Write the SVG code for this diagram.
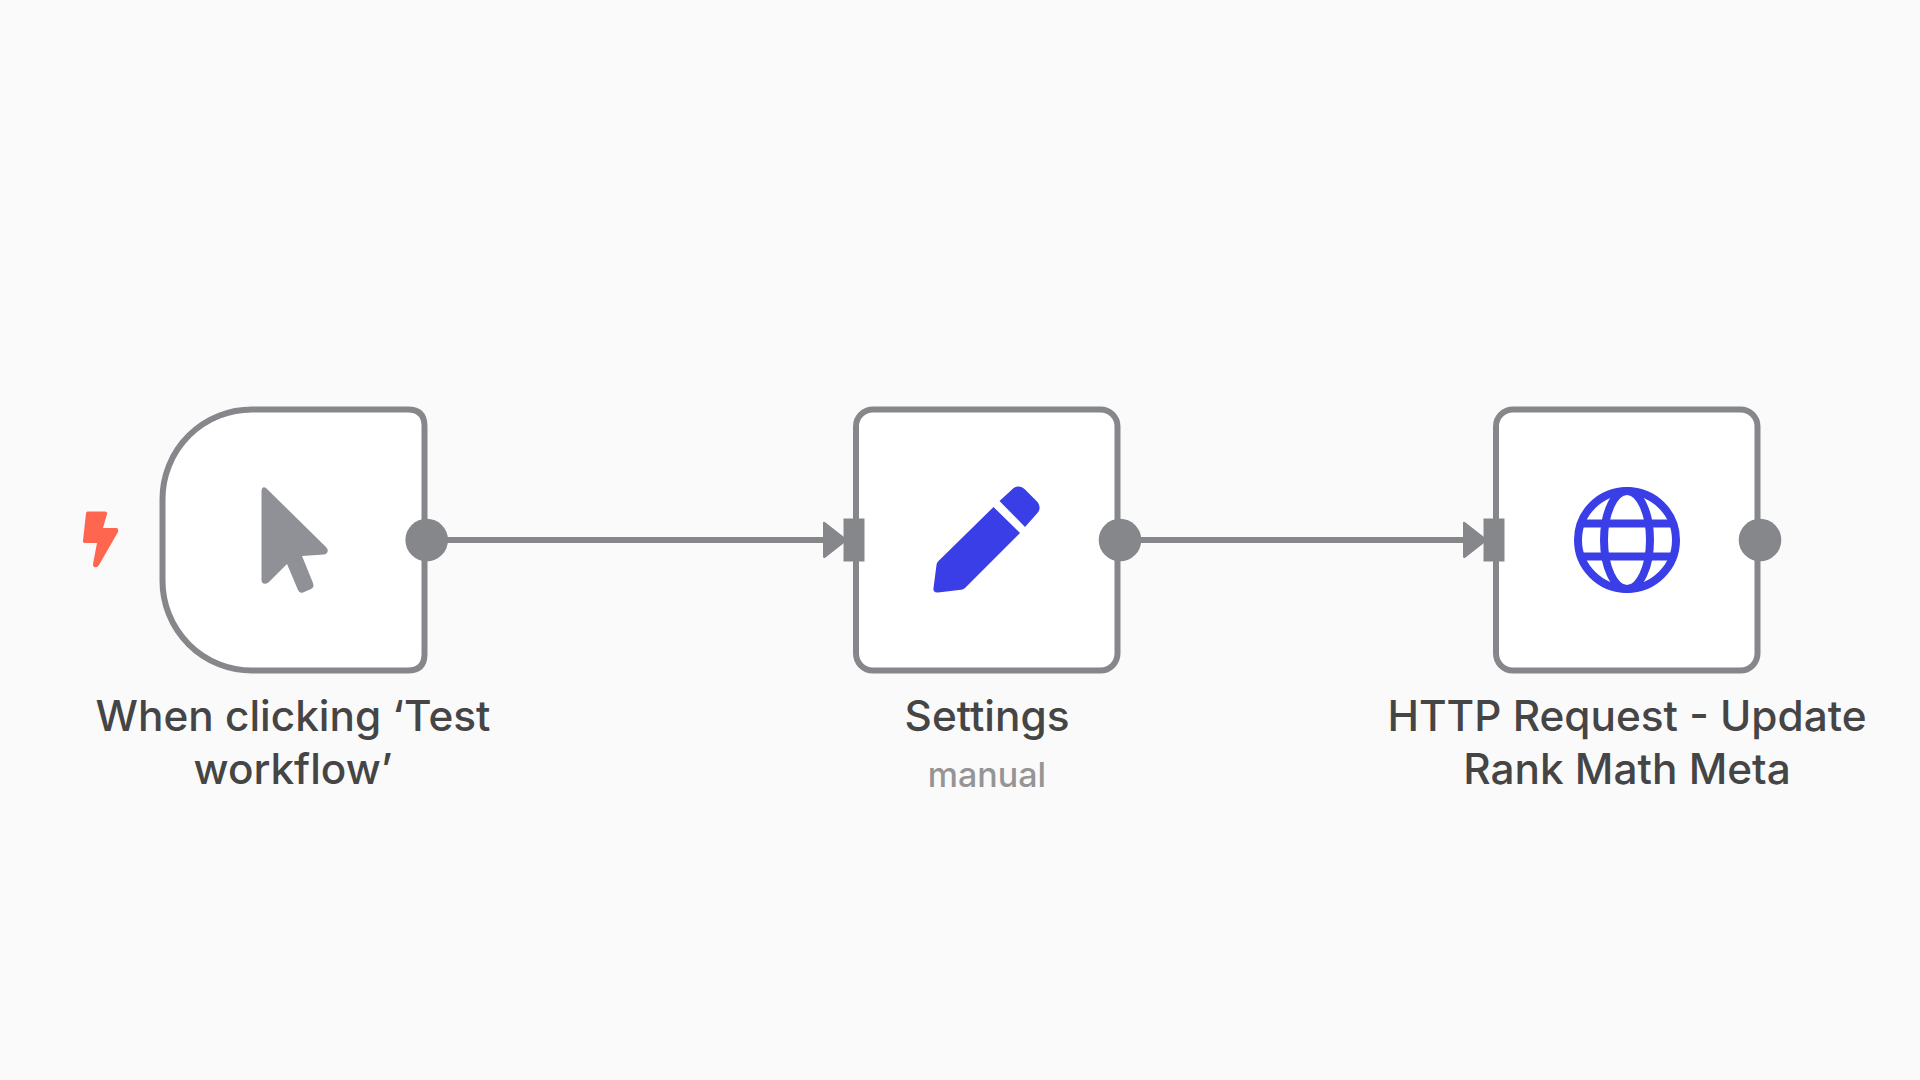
<svg xmlns="http://www.w3.org/2000/svg" width="1920" height="1080" viewBox="0 0 1920 1080">
<style>
.box{fill:#fff;stroke:#85878a;stroke-width:6}
.line{stroke:#85878a;stroke-width:6;fill:none}
.port{fill:#85878a}
.t{font-family:Inter,"Liberation Sans",sans-serif;font-size:42.300px;font-weight:500;fill:#454545;text-anchor:middle}
.s{font-family:Inter,"Liberation Sans",sans-serif;font-size:34px;font-weight:500;fill:#959595;text-anchor:middle}
.blue{fill:#3a3ee6}
</style>
<defs>
<g id="inport"><path class="port" d="M-30-17.500C-30-18.500-28.500-18.500-27.500-17.500L-9-3V3L-27.500 17.500C-28.500 18.500-30 18-30 16.500Z"/><rect class="port" x="-9.500" y="-21.500" width="21" height="43"/></g>
</defs>
<rect width="1920" height="1080" fill="#fafafb"/>
<g id="connectors">
<line class="line" x1="440" y1="540" x2="825" y2="540"/>
<line class="line" x1="1135" y1="540" x2="1465" y2="540"/>
</g>
<g id="node-trigger">
<path class="box" d="M252 409.500H408Q424.500 409.500 424.500 426V654Q424.500 670.500 408 670.500H252A89.500 89.500 0 0 1 162.500 581V499A89.500 89.500 0 0 1 252 409.500Z"/>
<path d="M261.500 491.500C261.500 487 264 486 266.500 488.500L326 547C329 550 328 554 324 554.500L302 556L313 583C314 586 313.500 588 311 589L303 592.500C300.500 593.500 299 592 298 590L287 564L269 582C265.500 585 261.500 584 261.500 580Z" fill="#8f9196"/>
<path d="M88 511.500H105C106.500 511.500 107.500 512.500 107 514L103 528H116.500C118 528 118.500 530 118 532L99 565C97 568.500 92.500 568 93 564L97 543H85C83.500 543 82.500 542 83 540.500L86 513.500C86.200 512 87 511.500 88 511.500Z" fill="#ff6650"/>
<circle class="port" cx="426.700" cy="540" r="21.300"/>
<text class="t" x="293" y="731">When clicking ‘Test</text>
<text class="t" x="293" y="784">workflow’</text>
</g>
<g id="node-settings">
<rect class="box" x="856" y="409.500" width="261.500" height="261" rx="17"/>
<use href="#inport" x="853" y="540"/>
<path class="blue" d="M993.500 507L1020 533L966 587C965 588.500 963 589.500 961 589.700L938 592.500C934.500 593 933 590.500 933.500 588L936.500 565C936.700 563 937.500 562 938.500 561Z"/>
<path class="blue" d="M999.500 501L1012 489.500C1016 485.500 1021 485.500 1025 489.500L1036.500 501C1040.500 505 1040.500 510 1037 513.500L1025 527Z"/>
<circle class="port" cx="1120" cy="540" r="21.300"/>
<text class="t" x="987" y="731">Settings</text>
<text class="s" x="987" y="787">manual</text>
</g>
<g id="node-http">
<rect class="box" x="1496" y="409.500" width="261.500" height="261" rx="17"/>
<use href="#inport" x="1493" y="540"/>
<g fill="none" stroke="#3a3ee6" stroke-width="8">
<circle cx="1627" cy="540" r="49"/>
<ellipse cx="1627" cy="540" rx="23" ry="49"/>
<path d="M1583 523.500H1671M1583 556.500H1671"/>
</g>
<circle class="port" cx="1760" cy="540" r="21.300"/>
<text class="t" x="1627" y="731">HTTP Request - Update</text>
<text class="t" x="1627" y="784">Rank Math Meta</text>
</g>
</svg>
